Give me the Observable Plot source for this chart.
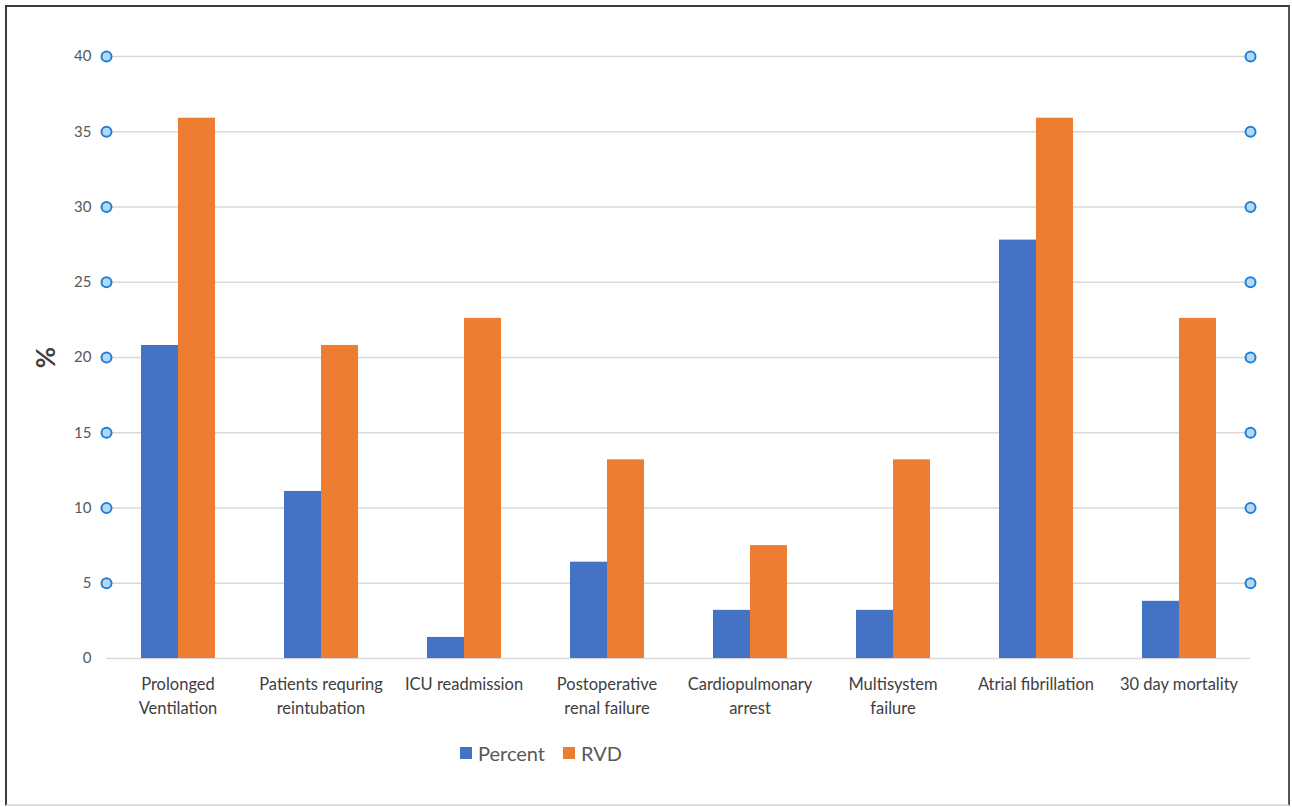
<!DOCTYPE html>
<html>
<head>
<meta charset="utf-8">
<script src="https://cdn.jsdelivr.net/npm/d3@7"></script>
<script src="https://cdn.jsdelivr.net/npm/@observablehq/plot@0.6"></script>
<style>
  html, body { margin: 0; padding: 0; background: #fff; }
  #wrap { position: relative; width: 1292px; height: 807px; overflow: hidden; font-family: Lato, "Open Sans", sans-serif; }
  #border { position: absolute; left: 5px; top: 5px; width: 1281px; height: 797px;
            border-left: 2px solid #3a3a3a; border-top: 2px solid #3a3a3a; border-right: 2px solid #555; border-bottom: 2px solid #ddd; }
  #chart { position: absolute; left: 0; top: 0; }
  #legend { position: absolute; left: 460px; top: 741px; display: flex; align-items: center; gap: 18px; font-size: 20px; color: #595959; }
  .item { display: flex; align-items: center; gap: 6px; }
  .sw { width: 12px; height: 12px; display: inline-block; }
</style>
</head>
<body>
<div id="wrap">
  <div id="border"></div>
  <div id="chart"></div>
  <div id="legend"></div>
</div>
<script>
const categories = [
  "Prolonged Ventilation",
  "Patients requring reintubation",
  "ICU readmission",
  "Postoperative renal failure",
  "Cardiopulmonary arrest",
  "Multisystem failure",
  "Atrial fibrillation",
  "30 day mortality"
];
const tickLabels = [
  "Prolonged\nVentilation",
  "Patients requring\nreintubation",
  "ICU readmission",
  "Postoperative\nrenal failure",
  "Cardiopulmonary\narrest",
  "Multisystem\nfailure",
  "Atrial fibrillation",
  "30 day mortality"
];
const seriesNames = ["Percent", "RVD"];
const percent = [20.8, 11.1, 1.4, 6.4, 3.2, 3.2, 27.8, 3.8];
const rvd = [35.9, 20.8, 22.6, 13.2, 7.5, 13.2, 35.9, 22.6];
const yTicks = [0, 5, 10, 15, 20, 25, 30, 35, 40];
const colors = ["#4472C4", "#ED7D31"];

const data = categories.flatMap((c, i) => [
  {category: c, series: seriesNames[0], value: percent[i]},
  {category: c, series: seriesNames[1], value: rvd[i]}
]);
const dotTicks = yTicks.filter(t => t > 0);

const chart = Plot.plot({
  width: 1292,
  height: 730,
  marginLeft: 105,
  marginRight: 41,
  marginTop: 56,
  marginBottom: 72,
  style: {fontFamily: "Lato, 'Open Sans', sans-serif", background: "transparent"},
  fx: {domain: categories, padding: 0},
  x: {domain: seriesNames, paddingInner: 0, paddingOuter: 0.9, align: 0.5, axis: null},
  y: {domain: [0, 40]},
  color: {domain: seriesNames, range: colors},
  marks: [
    Plot.ruleY(yTicks, {stroke: "#d9d9d9", strokeWidth: 1.5}),
    Plot.barY(data, {fx: "category", x: "series", y: "value", fill: "series"}),
    Plot.dot(dotTicks, {fx: () => categories[0], y: d => d, frameAnchor: "left", r: 5, fill: "#b6d8f2", stroke: "#1f80da", strokeWidth: 2}),
    Plot.dot(dotTicks, {fx: () => categories[categories.length - 1], y: d => d, frameAnchor: "right", r: 5, fill: "#b6d8f2", stroke: "#1f80da", strokeWidth: 2}),
    Plot.axisY({ticks: yTicks, tickSize: 0, tickPadding: 15, fontSize: 15, color: "#595959", label: null}),
    Plot.axisY({ticks: [], tickSize: 0, label: "%", labelAnchor: "center", labelArrow: "none", labelOffset: 70, fontSize: 26, fontWeight: "bold", color: "#404040"}),
    Plot.axisFx({anchor: "bottom", tickSize: 0, tickPadding: 14, fontSize: 16.5, lineHeight: 1.48, color: "#404040", label: null,
                 tickFormat: d => tickLabels[categories.indexOf(d)]})
  ]
});
document.getElementById("chart").appendChild(chart);

const legend = document.getElementById("legend");
seriesNames.forEach((s, i) => {
  const item = document.createElement("div");
  item.className = "item";
  const sw = document.createElement("span");
  sw.className = "sw";
  sw.style.background = colors[i];
  const t = document.createElement("span");
  t.textContent = s;
  item.appendChild(sw);
  item.appendChild(t);
  legend.appendChild(item);
});
</script>
</body>
</html>
